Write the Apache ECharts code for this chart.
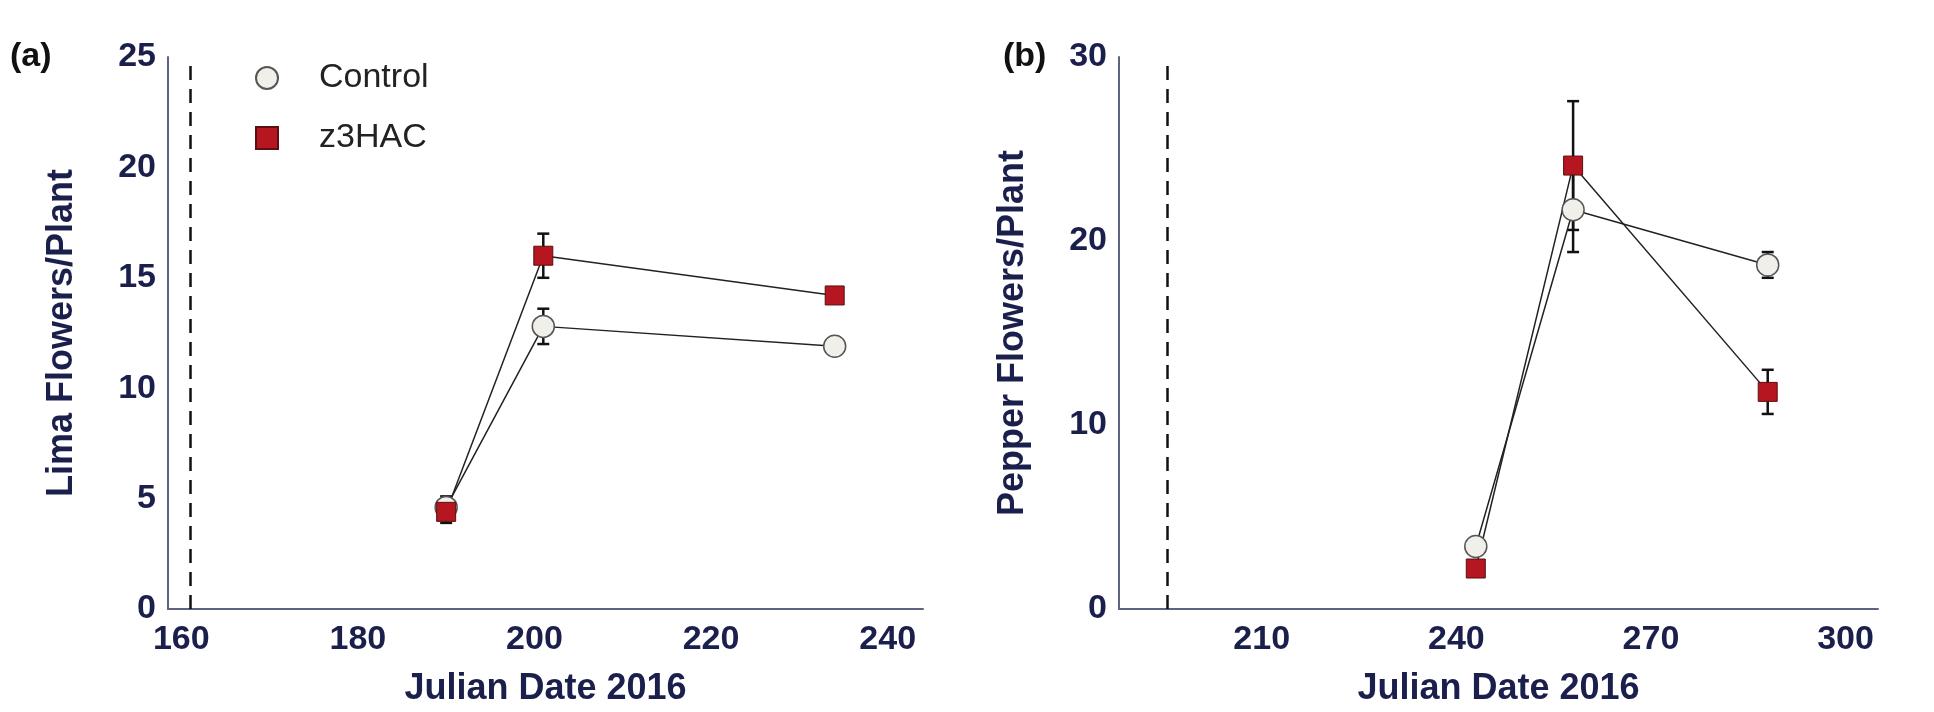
<!DOCTYPE html>
<html>
<head>
<meta charset="utf-8">
<script src="https://cdn.jsdelivr.net/npm/echarts@6/dist/echarts.min.js"></script>
<style>html,body{margin:0;padding:0;background:#fff}#chart{width:1934px;height:712px}</style>
</head>
<body>
<div id="chart"></div>
<script>
// lima panel
var limaDates = [190, 201, 234];
var limaControl = [4.6, 12.8, 11.9];
var limaControlErr = [0.5, 0.8, 0.2];
var limaZ3 = [4.4, 16.0, 14.2];
var limaZ3Err = [0.5, 1.0, 0.2];
var limaStars = [[201, 18.4], [234, 16.6]];
// pepper panel
var pepDates = [243, 258, 288];
var pepControl = [3.4, 21.7, 18.7];
var pepControlErr = [0.3, 2.3, 0.7];
var pepZ3 = [2.2, 24.1, 11.8];
var pepZ3Err = [0.2, 3.5, 1.2];
var pepStars = [[288, 22.2]];
var treatDay = [161, 195.5];

var navy = "#1b1f4b";
var font = "Liberation Sans";

pairs = function(xs, ys){
	var out = [];
	for(var i=0;i<xs.length;i++) out.push([xs[i], ys[i]]);
	return out;
}
errData = function(xs, ys, es){
	var out = [];
	for(var i=0;i<xs.length;i++) out.push([xs[i], ys[i]-es[i], ys[i]+es[i]]);
	return out;
}
errSeries = function(idx, data){
	return {
		type: 'custom', xAxisIndex: idx, yAxisIndex: idx, z: 1, silent: true,
		renderItem: function(params, api){
			var x = api.value(0);
			var lo = api.coord([x, api.value(1)]);
			var hi = api.coord([x, api.value(2)]);
			var w = 6;
			var st = {stroke: '#111', lineWidth: 2.5};
			return {type: 'group', children: [
				{type: 'line', shape: {x1: lo[0], y1: lo[1], x2: hi[0], y2: hi[1]}, style: st},
				{type: 'line', shape: {x1: lo[0]-w, y1: lo[1], x2: lo[0]+w, y2: lo[1]}, style: st},
				{type: 'line', shape: {x1: hi[0]-w, y1: hi[1], x2: hi[0]+w, y2: hi[1]}, style: st}
			]};
		},
		data: data
	};
}
lineSeries = function(idx, name, data, isCtrl, dash){
	var s = {
		name: name, type: 'line', xAxisIndex: idx, yAxisIndex: idx, z: 3,
		data: data,
		symbol: isCtrl ? 'circle' : 'rect',
		symbolSize: isCtrl ? 22 : 19,
		itemStyle: isCtrl ? {color: '#f1efe9', borderColor: '#555', borderWidth: 1.5}
			: {color: '#b5161f', borderColor: '#5a1010', borderWidth: 1},
		lineStyle: {color: '#222', width: 1.5}
	};
	if(dash != null){
		s.markLine = {silent: true, symbol: 'none', label: {show: false},
			lineStyle: {type: [14, 9], color: '#111', width: 2.5},
			data: [[{coord: [dash, 0]}, {coord: [dash, idx == 0 ? 25 : 30]}]]};
	}
	return s;
}
starSeries = function(idx, data){
	return {type: 'scatter', xAxisIndex: idx, yAxisIndex: idx, symbol: 'circle', symbolSize: 2,
		itemStyle: {opacity: 0}, silent: true, z: 5,
		data: data,
		label: {show: true, formatter: '*', position: 'inside', color: navy, fontSize: 64, fontWeight: 'bold', fontFamily: font}};
}
xAx = function(idx, min, max, ticks){
	return {type: 'value', gridIndex: idx, min: min, max: max,
		name: 'Julian Date 2016', nameLocation: 'middle', nameGap: 62,
		nameTextStyle: {color: navy, fontSize: 36, fontWeight: 'bold', fontFamily: font},
		axisLine: {lineStyle: {color: '#5d6380', width: 2}},
		axisTick: {show: false}, splitLine: {show: false},
		axisLabel: {color: navy, fontSize: 34, fontWeight: 'bold', fontFamily: font, margin: 14,
			showMinLabel: true, showMaxLabel: true, customValues: ticks}};
}
yAx = function(idx, max, interval, name){
	return {type: 'value', gridIndex: idx, min: 0, max: max, interval: interval,
		name: name, nameLocation: 'middle', nameGap: 88,
		nameTextStyle: {color: navy, fontSize: 36, fontWeight: 'bold', fontFamily: font},
		axisLine: {show: true, lineStyle: {color: '#5d6380', width: 2}},
		axisTick: {show: false}, splitLine: {show: false},
		axisLabel: {color: navy, fontSize: 34, fontWeight: 'bold', fontFamily: font, margin: 12}};
}

var chart = echarts.init(document.getElementById('chart'));
option = {
	animation: false,
	grid: [
		{left: 168, top: 57, width: 755, height: 554},
		{left: 1119, top: 57, width: 759, height: 554}
	],
	xAxis: [xAx(0, 158.5, 244, [160, 180, 200, 220, 240]), xAx(1, 188, 305, [210, 240, 270, 300])],
	yAxis: [yAx(0, 25, 5, 'Lima Flowers/Plant'), yAx(1, 30, 10, 'Pepper Flowers/Plant')],
	legend: {
		left: 250, top: 56, orient: 'vertical', itemGap: 26, itemWidth: 22, itemHeight: 22,
		data: [{name: 'Control', icon: 'circle'}, {name: 'z3HAC', icon: 'rect'}],
		textStyle: {color: '#222', fontSize: 34, fontFamily: font, padding: [0, 0, 0, 36]}
	},
	graphic: [
		{type: 'text', left: 10, top: 40, style: {text: '(a)', fontSize: 34, fontWeight: 'bold', fontFamily: font, fill: '#111'}},
		{type: 'text', left: 1003, top: 40, style: {text: '(b)', fontSize: 34, fontWeight: 'bold', fontFamily: font, fill: '#111'}}
	],
	series: [
		errSeries(0, errData(limaDates, limaControl, limaControlErr)),
		errSeries(0, errData(limaDates, limaZ3, limaZ3Err)),
		lineSeries(0, 'Control', pairs(limaDates, limaControl), true, treatDay[0]),
		lineSeries(0, 'z3HAC', pairs(limaDates, limaZ3), false, null),
		starSeries(0, limaStars),
		errSeries(1, errData(pepDates, pepControl, pepControlErr)),
		errSeries(1, errData(pepDates, pepZ3, pepZ3Err)),
		lineSeries(1, 'Control', pairs(pepDates, pepControl), true, treatDay[1]),
		lineSeries(1, 'z3HAC', pairs(pepDates, pepZ3), false, null),
		starSeries(1, pepStars)
	]
};
chart.setOption(option);
</script>
</body>
</html>
